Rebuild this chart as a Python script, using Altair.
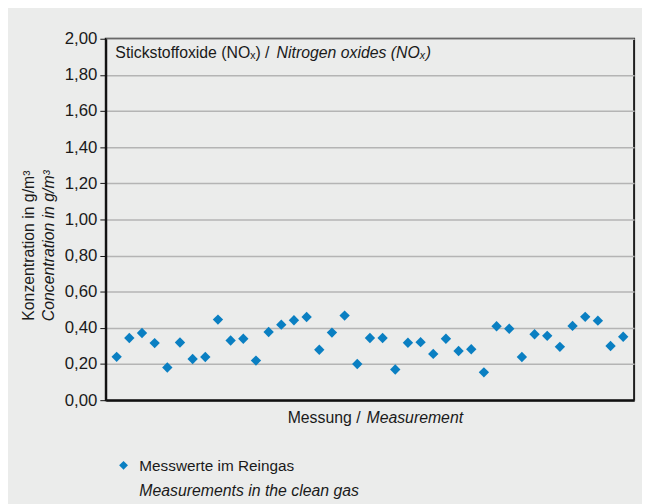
import altair as alt
import pandas as pd

# ---- data ----
measurement = list(range(1, 42))
concentration = [0.240, 0.344, 0.372, 0.316, 0.181, 0.319, 0.228, 0.239, 0.446, 0.330,
                 0.340, 0.219, 0.377, 0.418, 0.442, 0.460, 0.279, 0.374, 0.468, 0.200,
                 0.344, 0.344, 0.170, 0.318, 0.321, 0.256, 0.340, 0.272, 0.282, 0.154,
                 0.409, 0.395, 0.239, 0.365, 0.356, 0.295, 0.411, 0.461, 0.440, 0.300,
                 0.351]
y_ticks = [0.0, 0.2, 0.4, 0.6, 0.8, 1.0, 1.2, 1.4, 1.6, 1.8, 2.0]

FONT = "Liberation Sans, Arial, sans-serif"
TEXT_COLOR = "#1a1a1a"
BLUE = "#0a7fc2"

df = pd.DataFrame({"Messung": measurement, "Konzentration": concentration})

points = alt.Chart(df).mark_point(
    shape="diamond", filled=True, size=110, color=BLUE, opacity=1
).encode(
    x=alt.X("Messung:Q",
            scale=alt.Scale(domain=[0.14, 41.86], nice=False, zero=False),
            axis=alt.Axis(title=None, labels=False, ticks=False, grid=False,
                          domainColor="#111111", domainWidth=2)),
    y=alt.Y("Konzentration:Q",
            scale=alt.Scale(domain=[0, 2], nice=False),
            axis=alt.Axis(title=None, values=y_ticks,
                          labelExpr="replace(format(datum.value, '.2f'), '.', ',')",
                          labelFont=FONT, labelFontSize=17, labelColor=TEXT_COLOR,
                          labelPadding=3, tickSize=6, tickColor="#111111", tickWidth=1,
                          domainColor="#111111", domainWidth=2,
                          grid=True, gridColor="#b4b4b4", gridWidth=1.5)),
)


def note(text, x, y, size, italic=False, align="left", angle=0, baseline="alphabetic"):
    return alt.Chart(alt.Data(values=[{}])).mark_text(
        text=text, x=x, y=y, align=align, baseline=baseline, angle=angle,
        fontStyle="italic" if italic else "normal",
        font=FONT, fontSize=size, color=TEXT_COLOR,
    )


title_a = note("Stickstoffoxide (NOₓ) /", 9.7, 20, 16)
title_b = note("Nitrogen oxides (NOₓ)", 173, 20, 16, italic=True)

ytitle_a = note("Konzentration in g/m³", -78, 209.5, 16, align="center", angle=270, baseline="middle")
ytitle_b = note("Concentration in g/m³", -57, 209.5, 16, italic=True, align="center", angle=270, baseline="middle")

xtitle_a = note("Messung /", 258, 389, 16, align="right")
xtitle_b = note("Measurement", 264, 389, 16, italic=True)

legend_sym = alt.Chart(alt.Data(values=[{}])).mark_point(
    shape="diamond", filled=True, size=80, color=BLUE, opacity=1, x=18, y=432
)
legend_a = note("Messwerte im Reingas", 34, 437.5, 15.5)
legend_b = note("Measurements in the clean gas", 34, 463.5, 16, italic=True)

chart = alt.layer(
    points, title_a, title_b, ytitle_a, ytitle_b, xtitle_a, xtitle_b,
    legend_sym, legend_a, legend_b
).properties(
    width=535, height=366,
    autosize=alt.AutoSizeParams(type="none"),
    padding={"left": 99, "top": 28, "right": 8, "bottom": 102},
    background="#ebeceb",
).configure_view(
    fill="white", stroke="#1e1e1e", strokeWidth=2
)

chart.save("out.html", embed_options={"renderer": "svg", "actions": False})
